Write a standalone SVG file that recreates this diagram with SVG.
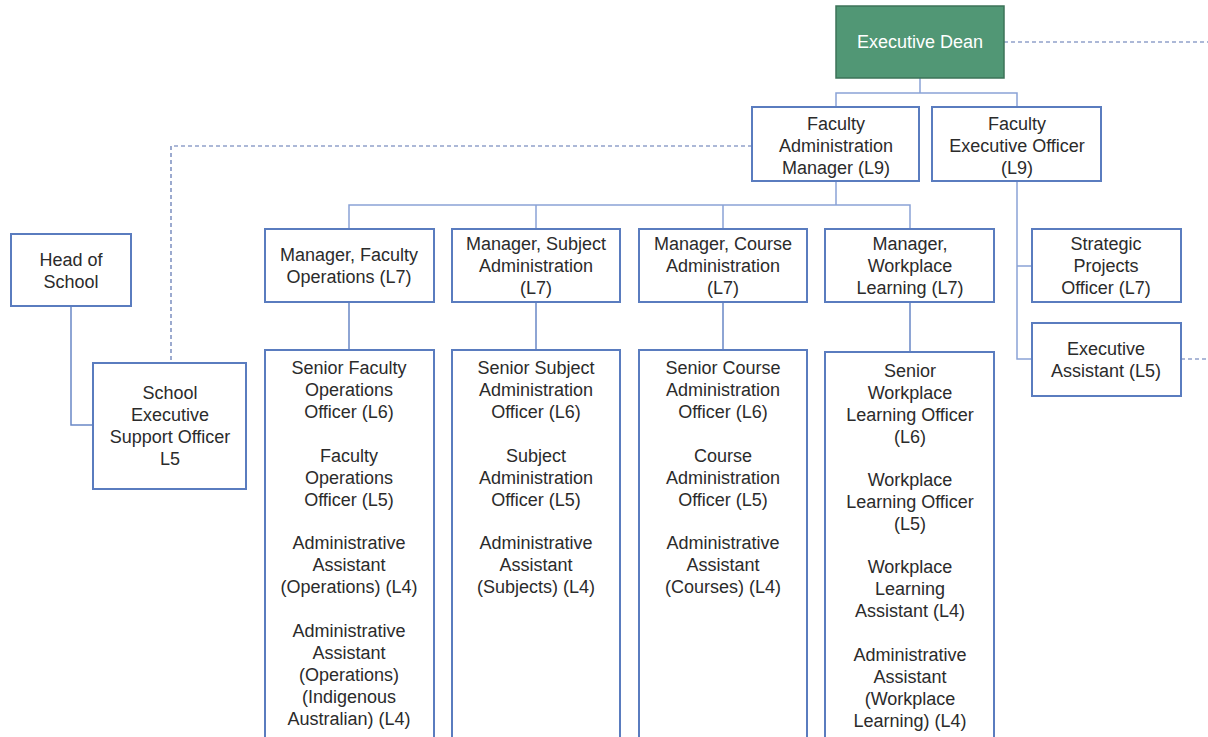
<svg xmlns="http://www.w3.org/2000/svg" width="1208" height="737" viewBox="0 0 1208 737">
<style>
.box{fill:#fff;stroke:#5a7cbf;stroke-width:2}
.dean{fill:#519775;stroke:#3c7358;stroke-width:1.5}
text{font-family:"Liberation Sans",Arial,sans-serif;font-size:18px;fill:#2b2b2b;text-anchor:middle}
.w{fill:#fff}
.ln{fill:none;stroke:#8aa3d6;stroke-width:1.5}
.ln2{fill:none;stroke:#6a88c6;stroke-width:1.5}
.dash{fill:none;stroke:#5a72b0;stroke-width:1.2;stroke-dasharray:4 3}
</style>
<rect width="1208" height="737" fill="#fff"/>
<g id="connectors">
<path class="ln" d="M920,78 V93 M836,107 V93 H1017 V107"/>
<path class="ln" d="M836,181 V205 M349,229 V205 H910 V229 M536,205 V229 M723,205 V229"/>
<path class="ln2" d="M349,302 V350 M536,302 V350 M723,302 V350 M910,302 V352"/>
<path class="ln" d="M1017,181 V359 H1032 M1017,266 H1032"/>
<path class="ln2" d="M71,306 V425 H93"/>
<path class="dash" d="M1004,42 H1208 M752,146 H171 V362 M1181,359 H1208"/>
</g>
<g id="executive-dean"><rect class="dean" x="836" y="6" width="168" height="72"/><text class="w" x="920" y="48">Executive Dean</text></g>
<g id="faculty-admin-manager"><rect class="box" x="752" y="107" width="167" height="74"/><text x="836" y="130">Faculty</text><text x="836" y="152">Administration</text><text x="836" y="174">Manager (L9)</text></g>
<g id="faculty-exec-officer"><rect class="box" x="932" y="107" width="169" height="74"/><text x="1017" y="130">Faculty</text><text x="1017" y="152">Executive Officer</text><text x="1017" y="174">(L9)</text></g>
<g id="head-of-school"><rect class="box" x="11" y="234" width="120" height="72"/><text x="71" y="266">Head of</text><text x="71" y="288">School</text></g>
<g id="school-exec-support"><rect class="box" x="93" y="363" width="153" height="126"/><text x="170" y="399">School</text><text x="170" y="421">Executive</text><text x="170" y="443">Support Officer</text><text x="170" y="465">L5</text></g>
<g id="mgr-faculty-ops"><rect class="box" x="265" y="229" width="169" height="73"/><text x="349" y="261">Manager, Faculty</text><text x="349" y="283">Operations (L7)</text></g>
<g id="mgr-subject-admin"><rect class="box" x="452" y="229" width="168" height="73"/><text x="536" y="250">Manager, Subject</text><text x="536" y="272">Administration</text><text x="536" y="294">(L7)</text></g>
<g id="mgr-course-admin"><rect class="box" x="639" y="229" width="168" height="73"/><text x="723" y="250">Manager, Course</text><text x="723" y="272">Administration</text><text x="723" y="294">(L7)</text></g>
<g id="mgr-workplace"><rect class="box" x="825" y="229" width="169" height="73"/><text x="910" y="250">Manager,</text><text x="910" y="272">Workplace</text><text x="910" y="294">Learning (L7)</text></g>
<g id="strategic-projects"><rect class="box" x="1032" y="229" width="149" height="73"/><text x="1106" y="250">Strategic</text><text x="1106" y="272">Projects</text><text x="1106" y="294">Officer (L7)</text></g>
<g id="exec-assistant"><rect class="box" x="1032" y="323" width="149" height="73"/><text x="1106" y="355">Executive</text><text x="1106" y="377">Assistant (L5)</text></g>
<g id="staff-faculty-ops"><rect class="box" x="265" y="350" width="169" height="390"/>
<text x="349" y="374">Senior Faculty</text><text x="349" y="396">Operations</text><text x="349" y="418">Officer (L6)</text>
<text x="349" y="462">Faculty</text><text x="349" y="484">Operations</text><text x="349" y="506">Officer (L5)</text>
<text x="349" y="549">Administrative</text><text x="349" y="571">Assistant</text><text x="349" y="593">(Operations) (L4)</text>
<text x="349" y="637">Administrative</text><text x="349" y="659">Assistant</text><text x="349" y="681">(Operations)</text><text x="349" y="703">(Indigenous</text><text x="349" y="725">Australian) (L4)</text></g>
<g id="staff-subject-admin"><rect class="box" x="452" y="350" width="168" height="390"/>
<text x="536" y="374">Senior Subject</text><text x="536" y="396">Administration</text><text x="536" y="418">Officer (L6)</text>
<text x="536" y="462">Subject</text><text x="536" y="484">Administration</text><text x="536" y="506">Officer (L5)</text>
<text x="536" y="549">Administrative</text><text x="536" y="571">Assistant</text><text x="536" y="593">(Subjects) (L4)</text></g>
<g id="staff-course-admin"><rect class="box" x="639" y="350" width="168" height="390"/>
<text x="723" y="374">Senior Course</text><text x="723" y="396">Administration</text><text x="723" y="418">Officer (L6)</text>
<text x="723" y="462">Course</text><text x="723" y="484">Administration</text><text x="723" y="506">Officer (L5)</text>
<text x="723" y="549">Administrative</text><text x="723" y="571">Assistant</text><text x="723" y="593">(Courses) (L4)</text></g>
<g id="staff-workplace"><rect class="box" x="825" y="352" width="169" height="388"/>
<text x="910" y="377">Senior</text><text x="910" y="399">Workplace</text><text x="910" y="421">Learning Officer</text><text x="910" y="443">(L6)</text>
<text x="910" y="486">Workplace</text><text x="910" y="508">Learning Officer</text><text x="910" y="530">(L5)</text>
<text x="910" y="573">Workplace</text><text x="910" y="595">Learning</text><text x="910" y="617">Assistant (L4)</text>
<text x="910" y="661">Administrative</text><text x="910" y="683">Assistant</text><text x="910" y="705">(Workplace</text><text x="910" y="727">Learning) (L4)</text></g>
</svg>
